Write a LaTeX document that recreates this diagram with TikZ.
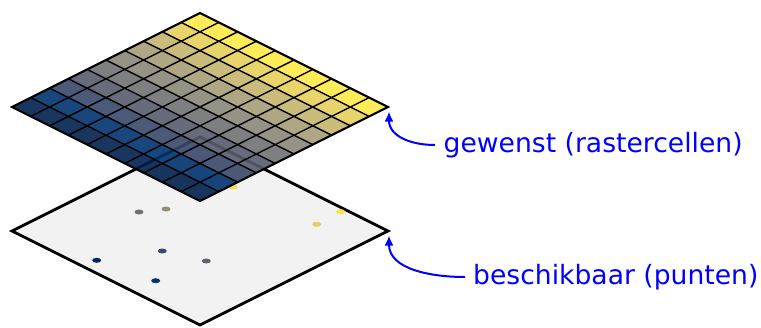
\documentclass[tikz,border=0pt]{standalone}
\usepackage{fontspec}
\setmainfont{DejaVu Sans}
\usetikzlibrary{arrows.meta,calc}
\definecolor{cv0}{HTML}{00204D}
\definecolor{cv1}{HTML}{00336F}
\definecolor{cv2}{HTML}{39486B}
\definecolor{cv3}{HTML}{575C6D}
\definecolor{cv4}{HTML}{707173}
\definecolor{cv5}{HTML}{8A8779}
\definecolor{cv6}{HTML}{A69D75}
\definecolor{cv7}{HTML}{C4B56C}
\definecolor{cv8}{HTML}{E4CF5B}
\definecolor{cv9}{HTML}{FFEA46}
\definecolor{planegray}{HTML}{F2F2F2}
\begin{document}
\begin{tikzpicture}[x=1pt,y=-1pt,line join=miter,
  plane/.style={fill=planegray,draw=black,line width=2.8pt},
  sample/.style={draw=none},
  cell/.style={fill opacity=0.9},
  gridline/.style={draw=black,line width=1.4pt},
  gridborder/.style={draw=black,line width=2.2pt},
  labeltext/.style={text=blue,font=\fontsize{26.6}{32}\selectfont,inner sep=0pt,anchor=base west},
  callout/.style={draw=blue,line width=2pt,-{Latex[length=10pt,width=9pt]}}]
\useasboundingbox (0,0) rectangle (761,327);
% bottom plane
\coordinate (bl) at (12,231);
\coordinate (bt) at (200,137);
\coordinate (br) at (388,231);
\coordinate (bb) at (200,325);
\path[plane] (bl) -- (bt) -- (br) -- (bb) -- cycle;
% sample points
\fill[sample,cv4] (139,212) ellipse [x radius=4.5pt,y radius=2.5pt];
\fill[sample,cv5!70!cv6] (166,209) ellipse [x radius=4.5pt,y radius=2.5pt];
\fill[sample,cv9!80!cv8] (340.7,211.7) ellipse [x radius=4.5pt,y radius=2.5pt];
\fill[sample,cv8] (316.7,224.3) ellipse [x radius=4.5pt,y radius=2.5pt];
\fill[sample,cv2] (162.3,251) ellipse [x radius=4.5pt,y radius=2.5pt];
\fill[sample,cv0!60!cv1] (96.7,260.3) ellipse [x radius=4.5pt,y radius=2.5pt];
\fill[sample,cv3!60!cv4] (206.3,261) ellipse [x radius=4.5pt,y radius=2.5pt];
\fill[sample,cv1] (155.7,280.7) ellipse [x radius=4.5pt,y radius=2.5pt];
\fill[sample,cv9!60!cv8] (233.3,187) ellipse [x radius=4.5pt,y radius=2.5pt];
% top raster grid
\begin{scope}[shift={(12pt,-107pt)},x={(18.8pt,9.4pt)},y={(18.8pt,-9.4pt)}]
  \foreach \i in {0,...,9}{
    \foreach \j in {0,...,9}{
      \fill[cell,cv\i] (\i,\j) -- ++(1,0) -- ++(0,1) -- ++(-1,0) -- cycle;
    }
  }
  \foreach \k in {1,...,9}{
    \draw[gridline] (\k,0) -- (\k,10);
    \draw[gridline] (0,\k) -- (10,\k);
  }
  \draw[gridborder] (0,0) -- (10,0) -- (10,10) -- (0,10) -- cycle;
  \coordinate (tr) at (10,10);
\end{scope}
% labels and callouts
\node[labeltext] (lab1) at (443.5,152) {gewenst (rastercellen)};
\node[labeltext] (lab2) at (473,284) {beschikbaar (punten)};
\coordinate (s1) at ($(lab1.base west)+(-8.5,-7)$);
\coordinate (s2) at ($(lab2.base west)+(-8,-7)$);
\coordinate (t1) at ($(tr)+(1,4.5)$);
\coordinate (t2) at ($(br)+(1,4.5)$);
\draw[callout] (s1) to[out=180,in=-90,looseness=1.1] (t1);
\draw[callout] (s2) to[out=180,in=-90] (t2);
\end{tikzpicture}
\end{document}
